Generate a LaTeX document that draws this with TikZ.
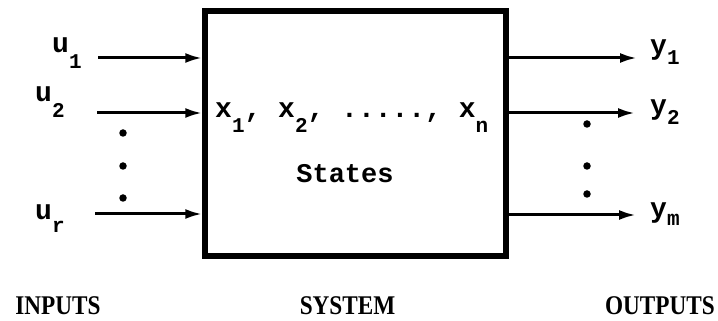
\documentclass[tikz,border=0pt]{standalone}
\usepackage{fontspec}
\setmainfont{Liberation Mono}
\newfontfamily\capsfont{Liberation Serif}
\usetikzlibrary{arrows.meta}
\newcommand\sbs[2][14pt]{\raisebox{-#1}{\fontsize{21}{21}\selectfont #2}}
\newcommand\captxt[1]{\scalebox{0.86}[1]{#1}}
\begin{document}
\begin{tikzpicture}[x=1pt,y=1pt,
  lbl/.style={font=\fontsize{28}{28}\selectfont\bfseries, inner sep=0pt, anchor=base west},
  sttext/.style={font=\fontsize{27}{27}\selectfont\bfseries, inner sep=0pt, anchor=base},
  captext/.style={font=\fontsize{27}{27}\selectfont\capsfont\bfseries, inner sep=0pt, anchor=base},
  sig/.style={line width=3pt, -{Latex[length=17pt,width=10pt]}},
  dotn/.style={circle, fill=black, inner sep=0pt, minimum size=7.5pt}]
\useasboundingbox (0,0) rectangle (718,321);
% system box
\node[draw, line width=5.5pt, minimum width=301pt, minimum height=245pt, inner sep=0pt] (sys) at (355.5,187.5) {};
% inner texts
\node[lbl] (xs) at (215,203) {x\sbs[15pt]{1}, x\sbs[15pt]{2}, ....., x\sbs[15pt]{n}};
\node[sttext] (st) at (345,138) {States};
% connector free ends
\coordinate (i1) at (98,263);
\coordinate (i2) at (97,208);
\coordinate (ir) at (95,107);
\coordinate (o1) at (637,263);
\coordinate (o2) at (635,208);
\coordinate (om) at (636,106);
\draw[sig] (i1) -- (sys.west |- i1);
\draw[sig] (i2) -- (sys.west |- i2);
\draw[sig] (ir) -- (sys.west |- ir);
\draw[sig] (sys.east |- o1) -- (o1);
\draw[sig] (sys.east |- o2) -- (o2);
\draw[sig] (sys.east |- om) -- (om);
% labels
\node[lbl] (u1) at (52,268) {u\sbs[16pt]{1}};
\node[lbl] (u2) at (35,219) {u\sbs[16pt]{2}};
\node[lbl] (ur) at (35,101) {u\sbs[13pt]{r}};
\node[lbl] (y1) at (650,266) {y\sbs[10pt]{1}};
\node[lbl] (y2) at (650,206) {y\sbs[10pt]{2}};
\node[lbl] (ym) at (650,103) {y\sbs[8pt]{m}};
% dots
\node[dotn] (dl1) at (123,188) {};
\node[dotn] (dl2) at (123,155) {};
\node[dotn] (dl3) at (123,123) {};
\node[dotn] (dr1) at (587,197) {};
\node[dotn] (dr2) at (587,155) {};
\node[dotn] (dr3) at (587,127) {};
% bottom captions
\node[captext] (inp) at (58,6) {\captxt{INPUTS}};
\node[captext] (sysl) at (347.5,6) {\captxt{SYSTEM}};
\node[captext] (outp) at (660,6) {\captxt{OUTPUTS}};
\end{tikzpicture}
\end{document}
